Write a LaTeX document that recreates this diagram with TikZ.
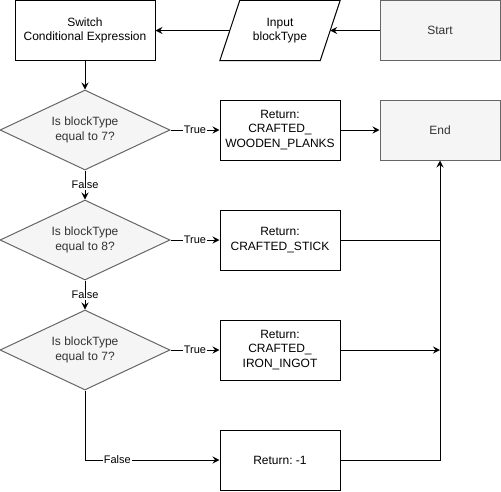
\documentclass[tikz,border=0pt]{standalone}
\usepackage{fontspec}
\setmainfont{Liberation Sans}
\frenchspacing
\usetikzlibrary{shapes.geometric,arrows.meta}
\definecolor{softfill}{HTML}{F5F5F5}
\definecolor{softline}{HTML}{666666}
\definecolor{softtext}{HTML}{333333}
\begin{document}
\begin{tikzpicture}[x=1pt,y=-1pt,
  every node/.style={font=\fontsize{12}{14.5}\selectfont, align=center},
  procbox/.style={draw=black, fill=white, line width=1pt, minimum width=140pt, minimum height=60pt, inner sep=0pt},
  retbox/.style={draw=black, fill=white, line width=1pt, minimum width=120pt, minimum height=60pt, inner sep=0pt},
  termbox/.style={draw=softline, fill=softfill, text=softtext, line width=1pt, minimum width=120pt, minimum height=60pt, inner sep=0pt},
  decision/.style={diamond, draw=softline, fill=softfill, text=softtext, line width=1pt, aspect=2.125, minimum width=170pt, minimum height=80pt, inner sep=0pt},
  flow/.style={line width=1pt, -{Stealth[length=7pt,width=7pt,inset=2.5pt]}},
  plain/.style={line width=1pt},
  lbl/.style={font=\fontsize{11}{13}\selectfont, fill=white, inner sep=1pt}]
\useasboundingbox (0,0) rectangle (501,491);

% top row
\node[procbox] (switch) at (85,30.5) {Switch\\Conditional Expression};
\node[minimum width=100pt, minimum height=60pt, inner sep=0pt] (input) at (280,30.5) {Input\\blockType};
\draw[line width=1pt] ([xshift=-10pt]input.south west) -- ([xshift=10pt]input.north west)
  -- ([xshift=10pt]input.north east) -- ([xshift=-10pt]input.south east) -- cycle;
\node[termbox] (start) at (440,30.5) {Start};

% decisions
\node[decision] (d1) at (85,130) {Is blockType\\equal to 7?};
\node[decision] (d2) at (85,240) {Is blockType\\equal to 8?};
\node[decision] (d3) at (85,350) {Is blockType\\equal to 7?};

% results
\node[retbox] (r1) at (280,130) {Return:\\CRAFTED\_\\WOODEN\_PLANKS};
\node[retbox] (r2) at (280,240) {Return:\\CRAFTED\_STICK};
\node[retbox] (r3) at (280,350) {Return:\\CRAFTED\_\\IRON\_INGOT};
\node[retbox] (r4) at (280,460) {Return: -1};
\node[termbox] (end) at (440,130) {End};

% connectors
\draw[flow] (start.west) -- (input.east);
\draw[flow] (input.west) -- (switch.east);
\draw[flow] (switch.south) -- (d1.north);

\draw[flow] (d1.east) -- node[lbl] {True} (r1.west);
\draw[flow] (d2.east) -- node[lbl] {True} (r2.west);
\draw[flow] (d3.east) -- node[lbl] {True} (r3.west);

\draw[flow] (d1.south) -- node[lbl] {False} (d2.north);
\draw[flow] (d2.south) -- node[lbl] {False} (d3.north);
\draw[flow] (d3.south) |- node[lbl, pos=0.62] {False} (r4.west);

\draw[flow] (r1.east) -- (end.west);
\draw[plain] (r2.east) -- (end.south |- r2.east);
\draw[flow] (r3.east) -- (end.south |- r3.east);
\draw[flow] (r4.east) -| (end.south);
\end{tikzpicture}
\end{document}
